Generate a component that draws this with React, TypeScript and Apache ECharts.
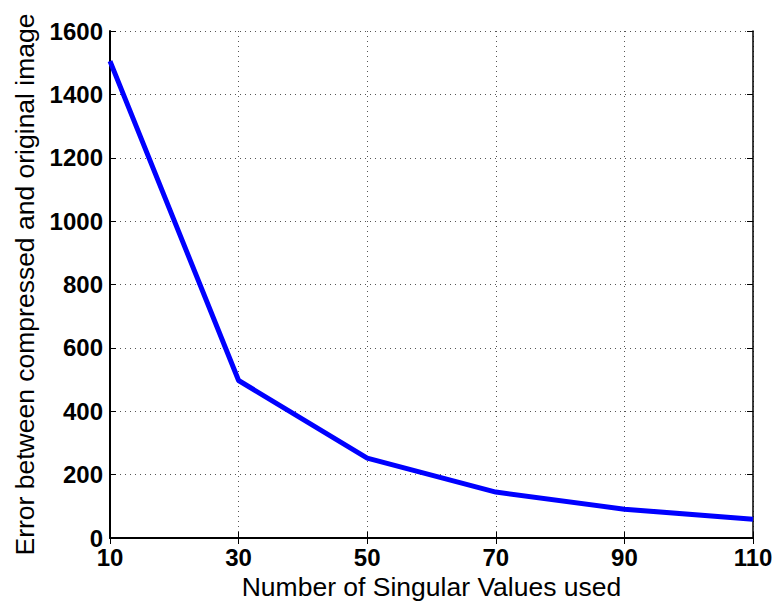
import React, { useEffect, useRef } from "react";
import * as echarts from "echarts";

const xValues = [10, 30, 50, 70, 90, 110];
const errorValues = [1505, 497, 252, 145, 91, 59];
const xTicks = [10, 30, 50, 70, 90, 110];
const yTicks = [0, 200, 400, 600, 800, 1000, 1200, 1400, 1600];

export default function App() {
  const ref = useRef<HTMLDivElement>(null);
  useEffect(() => {
    if (!ref.current) return;
    const chart = echarts.init(ref.current, null, { renderer: "svg" });
    const font = "'Liberation Sans', Arial, Helvetica, sans-serif";
    const split = { show: true, lineStyle: { color: "#555", type: [1, 4] as any, width: 1 } };
    chart.setOption({
      animation: false,
      backgroundColor: "#fff",
      grid: {
        left: 110,
        right: 27,
        top: 31,
        bottom: 67,
        show: false,
        containLabel: false,
        outerBoundsMode: "none",
      } as any,
      xAxis: [
        {
          type: "value",
          min: xTicks[0],
          max: xTicks[xTicks.length - 1],
          interval: 20,
          name: "Number of Singular Values used",
          nameLocation: "middle",
          nameGap: 34,
          nameTextStyle: { fontFamily: font, fontSize: 26.5, color: "#000" },
          axisLine: { show: true, lineStyle: { color: "#000", width: 2 } },
          axisTick: { show: true, inside: true, length: 6, lineStyle: { color: "#000" } },
          axisLabel: {
            fontFamily: font,
            fontSize: 24,
            fontWeight: "bold",
            color: "#000",
            margin: 7,
            formatter: (v: number) => String(v),
          },
          splitLine: split,
        },
        {
          type: "value",
          position: "top",
          min: xTicks[0],
          max: xTicks[xTicks.length - 1],
          interval: 20,
          axisLine: { show: true, lineStyle: { color: "#000", width: 1.5 } },
          axisTick: { show: true, inside: true, length: 6, lineStyle: { color: "#000" } },
          axisLabel: { show: false },
          splitLine: { show: false },
        },
      ],
      yAxis: [
        {
          type: "value",
          min: yTicks[0],
          max: yTicks[yTicks.length - 1],
          interval: 200,
          name: "Error between compressed and original image",
          nameLocation: "middle",
          nameGap: 70,
          nameTextStyle: { fontFamily: font, fontSize: 26.5, color: "#000" },
          axisLine: { show: true, lineStyle: { color: "#000", width: 2 } },
          axisTick: { show: true, inside: true, length: 6, lineStyle: { color: "#000" } },
          axisLabel: {
            fontFamily: font,
            fontSize: 24,
            fontWeight: "bold",
            color: "#000",
            margin: 7,
            formatter: (v: number) => String(v),
          },
          splitLine: split,
        },
        {
          type: "value",
          position: "right",
          min: yTicks[0],
          max: yTicks[yTicks.length - 1],
          interval: 200,
          axisLine: { show: true, lineStyle: { color: "#000", width: 1.5 } },
          axisTick: { show: true, inside: true, length: 6, lineStyle: { color: "#000" } },
          axisLabel: { show: false },
          splitLine: { show: false },
        },
      ],
      series: [
        {
          type: "line",
          data: xValues.map((x, i) => [x, errorValues[i]]),
          showSymbol: false,
          lineStyle: { color: "#0000ff", width: 5 },
          itemStyle: { color: "#0000ff" },
          z: 5,
        },
      ],
    });
    return () => chart.dispose();
  }, []);
  return <div ref={ref} style={{ width: 780, height: 605, position: "absolute", left: 0, top: 0 }} />;
}
